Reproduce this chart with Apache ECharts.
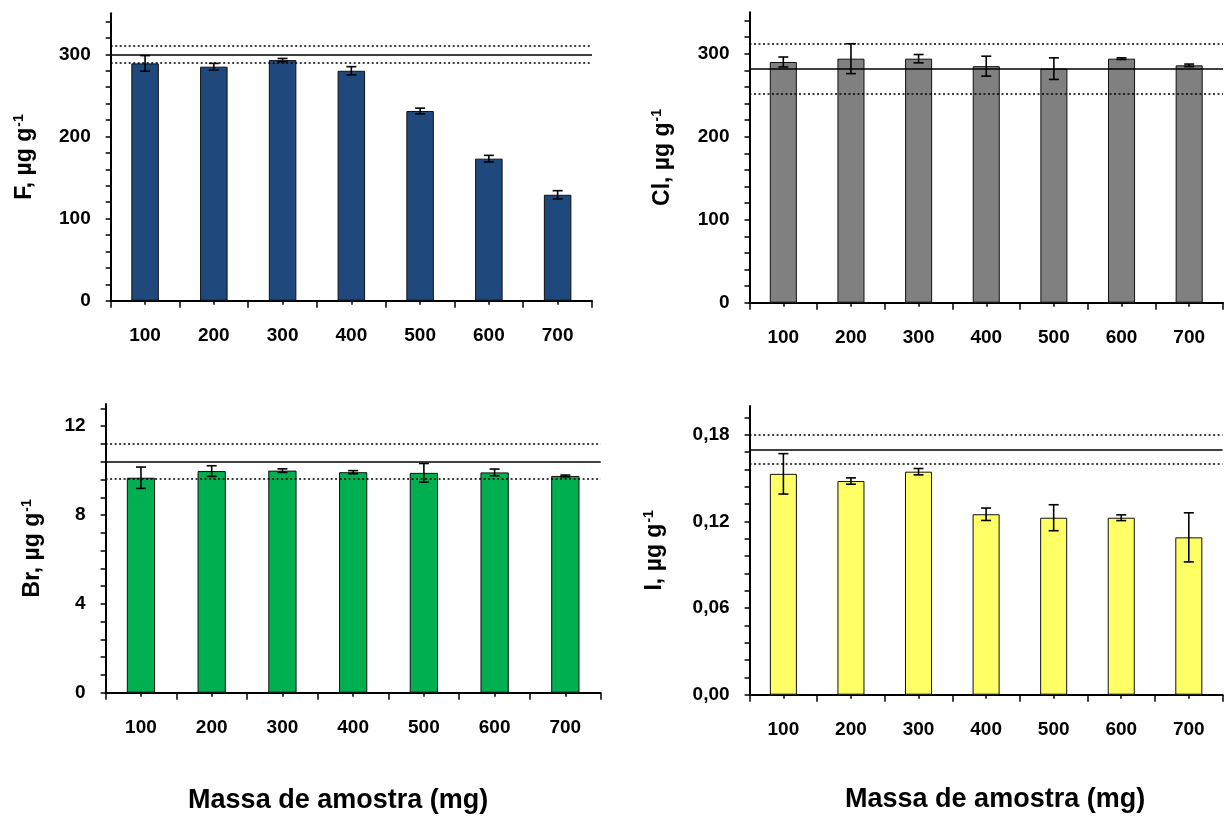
<!DOCTYPE html>
<html><head><meta charset="utf-8">
<script src="https://cdn.jsdelivr.net/npm/echarts@6/dist/echarts.min.js"></script>
<style>html,body{margin:0;padding:0;background:#fff}#c{width:1225px;height:816px}</style>
</head><body><div id="c"></div>
<script>
const categories = ['100', '200', '300', '400', '500', '600', '700'];

const F_values = [289, 285, 293, 280, 231, 173, 129];
const F_err    = [9.5, 4, 2, 5, 3.5, 4, 5];
const F_ref    = [300, 290, 310];          // mean, lower, upper
const F_ticks  = [0, 20, 40, 60, 80, 100, 120, 140, 160, 180, 200, 220, 240, 260, 280, 300, 320, 340];
const F_labels = [0, 100, 200, 300];

const Cl_values = [290, 294, 294, 285, 282, 294, 286];
const Cl_err    = [6, 18, 5, 12, 13, 1, 1.5];
const Cl_ref    = [282, 252, 312];
const Cl_ticks  = [0, 20, 40, 60, 80, 100, 120, 140, 160, 180, 200, 220, 240, 260, 280, 300, 320, 340];
const Cl_labels = [0, 100, 200, 300];

const Br_values = [9.68, 9.98, 10.0, 9.93, 9.9, 9.92, 9.76];
const Br_err    = [0.48, 0.24, 0.08, 0.07, 0.42, 0.15, 0.04];
const Br_ref    = [10.42, 9.63, 11.2];
const Br_ticks  = [0, 0.8, 1.6, 2.4, 3.2, 4, 4.8, 5.6, 6.4, 7.2, 8, 8.8, 9.6, 10.4, 11.2, 12, 12.8];
const Br_labels = [0, 4, 8, 12];

const I_values = [0.153, 0.148, 0.1545, 0.125, 0.1226, 0.1226, 0.109];
const I_err    = [0.014, 0.0022, 0.0022, 0.0043, 0.009, 0.002, 0.017];
const I_ref    = [0.168, 0.156, 0.18];
const I_ticks  = [0, 0.012, 0.024, 0.036, 0.048, 0.06, 0.072, 0.084, 0.096, 0.108, 0.12, 0.132, 0.144, 0.156, 0.168, 0.18, 0.192];
const I_labels = [0, 0.06, 0.12, 0.18];

const xTitle = 'Massa de amostra (mg)';

const FONT = 'Liberation Sans, Arial, Helvetica, sans-serif';

const panels = [
  { unit: 'F, µg g',  values: F_values,  err: F_err,  ref: F_ref,  ticks: F_ticks,  labels: F_labels,  max: 350,  color: '#1F497D', fmt: v => String(v),
    grid: { left: 110.7, right: 633, top: 13.3, bottom: 515.3 }, nameGap: 74 },
  { unit: 'Cl, µg g', values: Cl_values, err: Cl_err, ref: Cl_ref, ticks: Cl_ticks, labels: Cl_labels, max: 350,  color: '#808080', fmt: v => String(v),
    grid: { left: 749.5, right: 2, top: 12.2, bottom: 513.3 }, nameGap: 74 },
  { unit: 'Br, µg g', values: Br_values, err: Br_err, ref: Br_ref, ticks: Br_ticks, labels: Br_labels, max: 13,   color: '#00B050', fmt: v => String(v),
    grid: { left: 105.6, right: 624.3, top: 404, bottom: 123.3 }, nameGap: 60, xName: true, xShift: -15, xGap: 94 },
  { unit: 'I, µg g',  values: I_values,  err: I_err,  ref: I_ref,  ticks: I_ticks,  labels: I_labels,  max: 0.2,  color: '#FFFF66', fmt: v => v.toFixed(2).replace('.', ','),
    grid: { left: 749.6, right: 2.4, top: 406, bottom: 121.3 }, nameGap: 82, xName: true, xShift: 9, xGap: 91 }
];

const grids = [], xAxes = [], yAxes = [], series = [];

panels.forEach((p, gi) => {
  grids.push(Object.assign({ containLabel: false }, p.grid));
  const mainX = {
    type: 'category', data: categories, gridIndex: gi, position: 'bottom',
    axisLine: { show: true, lineStyle: { color: '#000', width: 2 } },
    axisTick: { show: true, length: 7, lineStyle: { color: '#000', width: 1.5 } },
    axisLabel: { margin: 26, fontSize: 19, fontWeight: 'bold', color: '#000', fontFamily: FONT },
    splitLine: { show: false }
  };
  if (p.xName) {
    const pad = p.xShift < 0 ? [0, -2 * p.xShift, 0, 0] : [0, 0, 0, 2 * p.xShift];
    Object.assign(mainX, {
      name: xTitle, nameLocation: 'middle', nameGap: p.xGap,
      nameTextStyle: { fontSize: 27, fontWeight: 'bold', color: '#000', fontFamily: FONT, padding: pad, verticalAlign: 'top' }
    });
  }
  xAxes.push(mainX);
  xAxes.push({
    type: 'category', data: categories, gridIndex: gi, position: 'bottom',
    axisLine: { show: false },
    axisTick: { show: true, alignWithLabel: true, length: 4, lineStyle: { color: '#000', width: 1.5 } },
    axisLabel: { show: false }, splitLine: { show: false }
  });
  yAxes.push({
    type: 'value', gridIndex: gi, min: 0, max: p.max,
    axisLine: { show: true, lineStyle: { color: '#000', width: 2 } },
    axisTick: { show: true, length: 5, customValues: p.ticks, lineStyle: { color: '#000', width: 1.5 } },
    axisLabel: { customValues: p.labels, formatter: p.fmt, margin: 20, fontSize: 19, fontWeight: 'bold', color: '#000', fontFamily: FONT },
    splitLine: { show: false },
    name: '{t|' + p.unit + '}{s|-1}', nameLocation: 'middle', nameGap: p.nameGap,
    nameTextStyle: {
      rich: {
        t: { fontSize: 23, fontWeight: 'bold', color: '#000', fontFamily: FONT, lineHeight: 25 },
        s: { fontSize: 14, fontWeight: 'bold', color: '#000', fontFamily: FONT, verticalAlign: 'top', lineHeight: 25, padding: [0, 0, 8, 1] }
      }
    }
  });
  series.push({
    type: 'bar', xAxisIndex: gi * 2, yAxisIndex: gi, data: p.values, barWidth: '40%',
    itemStyle: { color: p.color, borderColor: '#111', borderWidth: 1 },
    z: 2,
    markLine: {
      silent: true, symbol: 'none', label: { show: false }, animation: false,
      data: [
        { yAxis: p.ref[0], lineStyle: { color: '#000', width: 1.6, type: 'solid' } },
        { yAxis: p.ref[1], lineStyle: { color: '#000', width: 1.5, type: [2, 2.5] } },
        { yAxis: p.ref[2], lineStyle: { color: '#000', width: 1.5, type: [2, 2.5] } }
      ]
    }
  });
  series.push({
    type: 'custom', xAxisIndex: gi * 2, yAxisIndex: gi, z: 10,
    encode: { x: 0, y: [1, 2] },
    data: p.values.map((v, i) => [i, v - p.err[i], v + p.err[i]]),
    renderItem: (params, api) => {
      const x = api.value(0);
      const lo = api.coord([x, api.value(1)]);
      const hi = api.coord([x, api.value(2)]);
      const w = 5;
      const st = { stroke: '#000', lineWidth: 1.6 };
      return { type: 'group', children: [
        { type: 'line', shape: { x1: lo[0], y1: lo[1], x2: hi[0], y2: hi[1] }, style: st },
        { type: 'line', shape: { x1: lo[0] - w, y1: lo[1], x2: lo[0] + w, y2: lo[1] }, style: st },
        { type: 'line', shape: { x1: hi[0] - w, y1: hi[1], x2: hi[0] + w, y2: hi[1] }, style: st }
      ]};
    }
  });
});

const chart = echarts.init(document.getElementById('c'), null, { renderer: 'canvas' });
chart.setOption({
  backgroundColor: '#fff',
  animation: false,
  grid: grids, xAxis: xAxes, yAxis: yAxes, series: series
});
</script>
</body></html>
